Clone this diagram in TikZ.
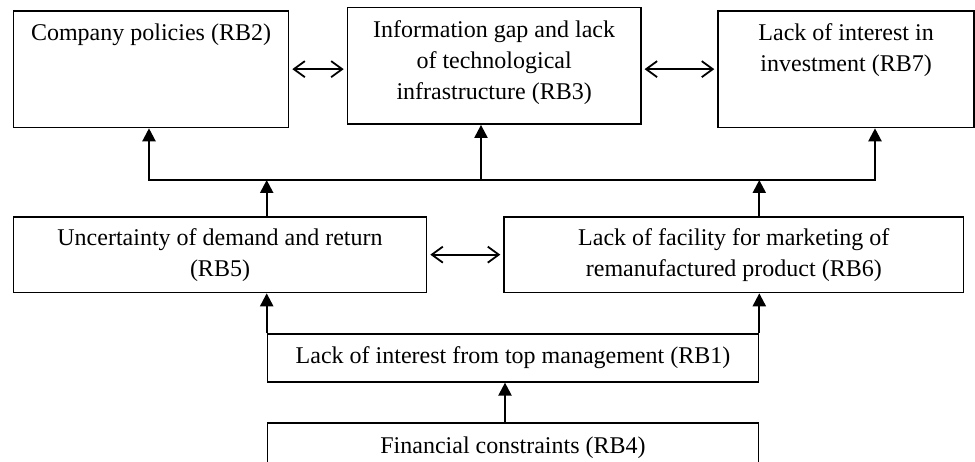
\documentclass[tikz,border=0pt]{standalone}
\usepackage{fontspec}
\setmainfont{Liberation Serif}
\usepackage{tikz}
\usetikzlibrary{arrows.meta}

% box with its text set at the top
\newcommand{\toptext}[3]{\parbox[c][#2][t]{#1}{\centering\vspace*{8.3pt}\strut #3\par}}

\tikzset{
	rbbox/.style={draw, line width=1.6pt, inner sep=0pt, anchor=north west},
	rbmid/.style={rbbox, align=center},
	uparrow/.style={line width=2.2pt, -{Triangle[length=13pt,width=13pt]}},
	twoway/.style={line width=1.8pt, {Straight Barb[length=11pt,width=16pt]}-{Straight Barb[length=11pt,width=16pt]}, shorten <=3pt, shorten >=3pt}
}

\begin{document}
\begin{tikzpicture}[x=1pt,y=1pt,yscale=-1,xscale=1,font=\fontsize{24}{31}\selectfont]
\useasboundingbox (0,0) rectangle (975,462);
\clip (0,0) rectangle (975,462);

%Shape: top row
\node (rb2) [rbbox] at (12.7,10) {\toptext{275pt}{116.7pt}{Company policies (RB2)}};
\node (rb3) [rbbox] at (346.7,6.7) {\toptext{293.3pt}{116.6pt}{Information gap and lack\\of technological\\infrastructure (RB3)}};
\node (rb7) [rbbox] at (717.3,10) {\toptext{256pt}{116.7pt}{Lack of interest in\\investment (RB7)}};
%Shape: middle row
\node (rb5) [rbmid, minimum width=413pt, minimum height=75.7pt] at (12.7,216) {Uncertainty of demand and return\\(RB5)};
\node (rb6) [rbmid, minimum width=459.4pt, minimum height=75.7pt] at (503.3,216) {Lack of facility for marketing of\\remanufactured product (RB6)};
%Shape: bottom row
\node (rb1) [rbmid, minimum width=491pt, minimum height=47.5pt] at (266.7,333.5) {Lack of interest from top management (RB1)};
\node (rb4) [rbbox] at (266.7,422.3) {\toptext{491pt}{60pt}{Financial constraints (RB4)}};

%Bus line
\coordinate (busL) at (149,180);
\coordinate (busM) at (481,180);
\coordinate (busR) at (875,180);

%Two way arrows
\draw [twoway] (rb2.east) -- (rb2.east -| rb3.west);
\draw [twoway] (rb7.west -| rb3.east) -- (rb7.west);
\draw [twoway] (rb5.east) -- (rb5.east -| rb6.west);

%Up arrows
\draw [uparrow, {Triangle[length=13pt,width=13pt]}-{Triangle[length=13pt,width=13pt]}] (busL |- rb2.south) -- (busL) -- (busR) -- (busR |- rb7.south);
\draw [uparrow] (busM) -- (busM |- rb3.south);
\draw [uparrow] (rb1.north west |- rb5.north) -- (rb1.north west |- busL);
\draw [uparrow] (rb1.north east |- rb6.north) -- (rb1.north east |- busR);
\draw [uparrow] (rb1.north west) -- (rb1.north west |- rb5.south);
\draw [uparrow] (rb1.north east) -- (rb1.north east |- rb6.south);
\draw [uparrow] ([xshift=-8pt]rb4.north) -- ([xshift=-8pt]rb1.south);

\end{tikzpicture}
\end{document}
